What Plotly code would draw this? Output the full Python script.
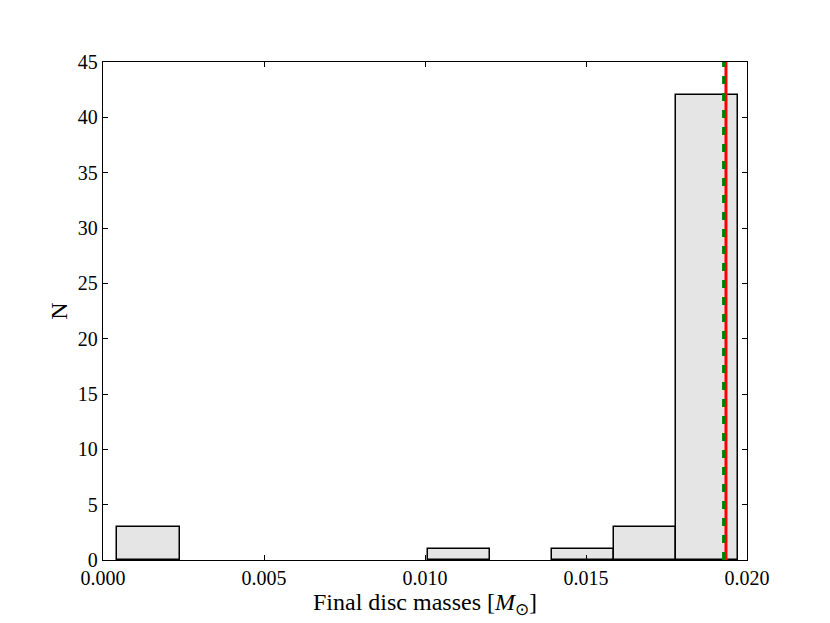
import numpy as np
import plotly.graph_objects as go

# histogram of final disc masses (bin edges in solar masses, counts per bin)
bin_edges = [0.000448, 0.002376, 0.004305, 0.006233, 0.008161, 0.010089,
             0.012017, 0.013946, 0.015874, 0.017802, 0.019730]
counts = [3, 0, 0, 0, 0, 1, 0, 1, 3, 42]

# reference masses marked with vertical lines
red_line_x = 0.019347
green_line_x = 0.019273

x_ticks = [0.000, 0.005, 0.010, 0.015, 0.020]
y_ticks = [0, 5, 10, 15, 20, 25, 30, 35, 40, 45]

_FONT = "Liberation Serif, Times New Roman, serif"

edges = np.array(bin_edges)
centers = (edges[:-1] + edges[1:]) / 2
widths = np.diff(edges)
# empty bins drawn as nothing (matplotlib leaves no outline on the axis)
shown = [c if c > 0 else None for c in counts]

fig = go.Figure()
fig.add_trace(go.Bar(
    x=centers,
    y=shown,
    width=widths,
    marker=dict(color="#e5e5e5", line=dict(color="black", width=1.5)),
    showlegend=False,
))

fig.add_shape(type="line", xref="x", yref="y", x0=red_line_x, x1=red_line_x,
              y0=0, y1=45, line=dict(color="red", width=3))
fig.add_shape(type="line", xref="x", yref="y", x0=green_line_x, x1=green_line_x,
              y0=0, y1=45, line=dict(color="green", width=3, dash="8px,9px"))

axis_common = dict(
    showline=True, linecolor="black", linewidth=1.3, mirror="ticks",
    ticks="inside", ticklen=5, tickcolor="black", tickwidth=1,
    showgrid=False, zeroline=False,
    tickfont=dict(family=_FONT, size=20, color="black"),
)

fig.update_xaxes(
    range=[0, 0.020], tickvals=x_ticks, tickformat=".3f",
    title=dict(text="Final disc masses [<i>M</i><sub>⊙</sub>]",
               font=dict(family=_FONT, size=24, color="black"), standoff=2),
    **axis_common,
)
fig.update_yaxes(
    range=[0, 45], tickvals=y_ticks,
    title=dict(text="N", font=dict(family=_FONT, size=24, color="black"), standoff=3),
    **axis_common,
)

# the page body adds an 8px margin, so the figure is shrunk by that much
fig.update_layout(
    width=822, height=615,
    margin=dict(l=95, r=83, t=54, b=63),
    plot_bgcolor="white", paper_bgcolor="white",
    bargap=0,
)

fig.write_html("out.html")
